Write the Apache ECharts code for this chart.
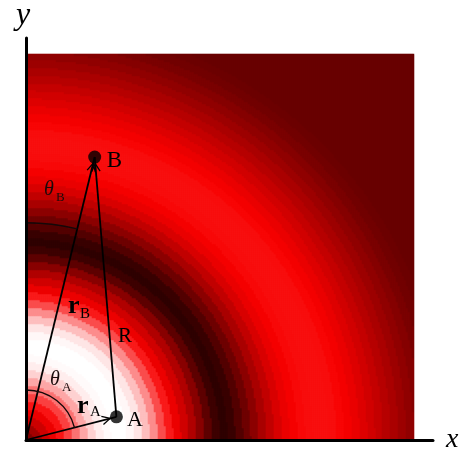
<!DOCTYPE html>
<html>
<head>
<meta charset="utf-8">
<script src="https://cdn.jsdelivr.net/npm/echarts@6/dist/echarts.min.js"></script>
<style>
  html, body { margin: 0; padding: 0; background: #ffffff; }
  #chart { width: 469px; height: 454px; }
</style>
</head>
<body>
<div id="chart"></div>
<script>
// Radial intensity, one level per ring of width RING_STEP (plot units), from the origin outward.
const ringLevels = [
  0.15, 0.40, 0.70, 0.92, 1.08, 1.25, 1.45, 1.65, 1.82, 1.93,
  1.98, 2.00, 2.00, 1.97, 1.90, 1.75, 1.55, 1.30, 1.10, 0.92,
  0.72, 0.50, 0.22, -0.10, -0.40, -0.55, -0.45, -0.20, 0.05, 0.25,
  0.45, 0.62, 0.78, 0.90, 0.98, 1.03, 1.05, 1.06, 1.06, 1.05,
  1.02, 0.97, 0.90, 0.82, 0.73, 0.64, 0.55, 0.46, 0.37, 0.28,
  0.20, 0.13, 0.07, 0.03, 0.00
];
const RING_STEP = 2;

// Extent of the field (plot units) and its cell resolution.
const fieldX = [0, 100];
const fieldY = [0, 99.5];
const cellsX = 194;
const cellsY = 193;

// Source points and the vectors between them ('O' is the origin).
const pointNames = ['A', 'B'];
const pointX = [23.3, 17.7];
const pointY = [6.0, 73.3];
const vectorFrom = ['O', 'O', 'A'];
const vectorTo = ['A', 'B', 'B'];

// Angle arcs, measured from the y axis to the direction of a point.
const arcRadius = [12.9, 56.0];
const arcTo = ['A', 'B'];

// Layout (pixels)
const HEAT = { left: 26, top: 54, width: 388, height: 386 };
const AXES = { left: 26, top: 36, width: 407, height: 404 };
const DOT_SIZE = 13;
const SERIF = '"Liberation Serif", "DejaVu Serif", serif';

// Text annotations: anchor point, pixel offset, font.
const labelSpecs = [
  { at: 'A', text: 'A', dx: 10.5, dy: 3.5, font: '22px ' + SERIF },
  { at: 'B', text: 'B', dx: 12, dy: 3.5, font: '23px ' + SERIF },
  { at: 'A', text: 'R', dx: 1.5, dy: -80, font: '21px ' + SERIF },
  { at: 'O', text: 'r', dx: 51, dy: -34, font: 'bold 26px ' + SERIF },
  { at: 'O', text: 'A', dx: 64, dy: -27.5, font: '15px ' + SERIF },
  { at: 'O', text: 'r', dx: 42, dy: -134, font: 'bold 26px ' + SERIF },
  { at: 'O', text: 'B', dx: 54, dy: -126, font: '15px ' + SERIF },
  { at: 'O', text: 'θ', dx: 24, dy: -60.5, font: 'italic 20px ' + SERIF, color: '#1a0a0a' },
  { at: 'O', text: 'A', dx: 36, dy: -52.5, font: '13px ' + SERIF, color: '#1a0a0a' },
  { at: 'O', text: 'θ', dx: 18, dy: -250, font: 'italic 20px ' + SERIF, color: '#1a0a0a' },
  { at: 'O', text: 'B', dx: 30, dy: -242, font: '13px ' + SERIF, color: '#1a0a0a' }
];

// Build the field cells: each cell takes the level of the ring it falls in.
const cellW = (fieldX[1] - fieldX[0]) / cellsX;
const cellH = (fieldY[1] - fieldY[0]) / cellsY;
const heatData = [];
for (let i = 0; i < cellsX; i++) {
  for (let j = 0; j < cellsY; j++) {
    const x = fieldX[0] + (i + 0.5) * cellW;
    const y = fieldY[0] + (j + 0.5) * cellH;
    const k = Math.min(Math.floor(Math.hypot(x, y) / RING_STEP), ringLevels.length - 1);
    heatData.push([i, j, ringLevels[k]]);
  }
}
const xCats = Array.from({ length: cellsX }, (_, i) => i);
const yCats = Array.from({ length: cellsY }, (_, j) => j);

// Overlay axes share the field's units but run a little past it.
const axisXMax = fieldX[1] * AXES.width / HEAT.width;
const axisYMax = fieldY[1] * AXES.height / HEAT.height;

function renderDiagram(params, api) {
  const pos = name => {
    if (name === 'O') return api.coord([0, 0]);
    const i = pointNames.indexOf(name);
    return api.coord([pointX[i], pointY[i]]);
  };
  const children = [];
  const dotR = DOT_SIZE / 2;
  const arm = 9, spread = 28 * Math.PI / 180;

  for (let k = 0; k < vectorFrom.length; k++) {
    const p0 = pos(vectorFrom[k]);
    const p1 = pos(vectorTo[k]);
    const len = Math.hypot(p1[0] - p0[0], p1[1] - p0[1]);
    const ux = (p1[0] - p0[0]) / len, uy = (p1[1] - p0[1]) / len;
    children.push({
      type: 'line',
      shape: { x1: p0[0], y1: p0[1], x2: p1[0], y2: p1[1] },
      style: { stroke: '#000', lineWidth: 1.8 }
    });
    const tip = [p1[0] - ux * dotR, p1[1] - uy * dotR];
    const wing = s => {
      const bx = -ux, by = -uy;
      const c = Math.cos(s), n = Math.sin(s);
      return [tip[0] + (bx * c - by * n) * arm, tip[1] + (bx * n + by * c) * arm];
    };
    children.push({
      type: 'polyline',
      shape: { points: [wing(spread), tip, wing(-spread)] },
      style: { stroke: '#000', fill: 'none', lineWidth: 1.3 }
    });
  }

  const o = pos('O');
  for (let k = 0; k < arcRadius.length; k++) {
    const rp = api.coord([arcRadius[k], 0])[0] - o[0];
    const p = pos(arcTo[k]);
    const ang = Math.atan2(p[1] - o[1], p[0] - o[0]);
    children.push({
      type: 'arc',
      shape: { cx: o[0], cy: o[1], r: rp, startAngle: -Math.PI / 2, endAngle: ang, clockwise: true },
      style: { stroke: '#140808', fill: 'none', lineWidth: 1.4 }
    });
  }

  labelSpecs.forEach(l => {
    const p = pos(l.at);
    children.push({
      type: 'text',
      x: p[0] + l.dx,
      y: p[1] + l.dy,
      style: {
        text: l.text, font: l.font, fill: l.color || '#000',
        align: 'left', verticalAlign: 'middle'
      }
    });
  });

  return { type: 'group', children };
}

const chart = echarts.init(document.getElementById('chart'), null, { renderer: 'canvas' });
chart.setOption({
  animation: false,
  backgroundColor: '#ffffff',
  grid: [
    { left: HEAT.left, top: HEAT.top, width: HEAT.width, height: HEAT.height },
    { left: AXES.left, top: AXES.top, width: AXES.width, height: AXES.height }
  ],
  xAxis: [
    { type: 'category', gridIndex: 0, data: xCats, show: false },
    {
      type: 'value', gridIndex: 1, min: 0, max: axisXMax, z: 10,
      axisLine: { onZero: false, lineStyle: { color: '#000', width: 3 } },
      axisTick: { show: false }, axisLabel: { show: false }, splitLine: { show: false },
      name: 'x', nameLocation: 'end', nameGap: 13,
      nameTextStyle: { fontFamily: SERIF, fontStyle: 'italic', fontSize: 28, color: '#000', verticalAlign: 'middle' }
    }
  ],
  yAxis: [
    { type: 'category', gridIndex: 0, data: yCats, show: false },
    {
      type: 'value', gridIndex: 1, min: 0, max: axisYMax, z: 10,
      axisLine: { onZero: false, lineStyle: { color: '#000', width: 3 } },
      axisTick: { show: false }, axisLabel: { show: false }, splitLine: { show: false },
      name: 'y', nameLocation: 'end', nameGap: 6,
      nameTextStyle: { fontFamily: SERIF, fontStyle: 'italic', fontSize: 32, color: '#000', padding: [0, 6, 0, 0] }
    }
  ],
  visualMap: {
    show: false, type: 'continuous', seriesIndex: 0, dimension: 2,
    min: -1, max: 2,
    inRange: { color: ['#000000', '#680000', '#f80000', '#ffffff'] }
  },
  series: [
    {
      type: 'heatmap', xAxisIndex: 0, yAxisIndex: 0, data: heatData,
      silent: true, progressive: 0, progressiveThreshold: 10000000,
      emphasis: { disabled: true }
    },
    {
      type: 'custom', xAxisIndex: 1, yAxisIndex: 1, z: 5, silent: true,
      data: [[0, 0]], renderItem: renderDiagram
    },
    {
      type: 'scatter', xAxisIndex: 1, yAxisIndex: 1, z: 6, silent: true,
      symbol: 'circle', symbolSize: DOT_SIZE,
      itemStyle: { color: '#000' },
      data: pointX.map((x, i) => [x, pointY[i]])
    }
  ]
});
</script>
</body>
</html>
